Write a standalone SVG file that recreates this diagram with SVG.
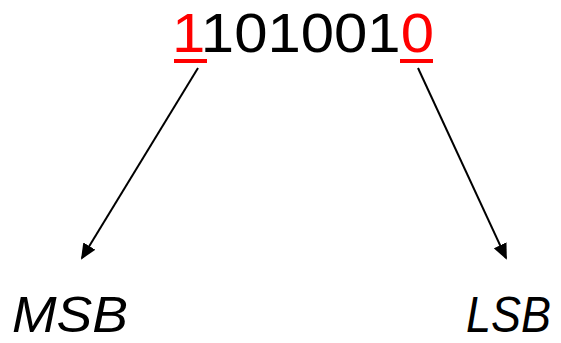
<svg xmlns="http://www.w3.org/2000/svg" width="561" height="343" viewBox="0 0 561 343">
<style>
.t{font-family:"Liberation Sans",Arial,sans-serif}
.red{fill:#ff0000}
.conn{stroke:#000;stroke-width:2;fill:none}
</style>
<defs>
<marker id="ah" markerWidth="8" markerHeight="7" refX="7" refY="3.5" orient="auto" markerUnits="strokeWidth">
<path d="M0,0 L8,3.5 L0,7 Z" fill="#000"/>
</marker>
</defs>
<rect width="561" height="343" fill="#fff"/>
<g id="bits">
<text class="t" x="172" y="52" font-size="56" textLength="262" lengthAdjust="spacingAndGlyphs"><tspan class="red">1</tspan>101001<tspan class="red">0</tspan></text>
<rect x="174" y="59" width="33" height="4" fill="#ff0000"/>
<rect x="400" y="59" width="33" height="4" fill="#ff0000"/>
</g>
<g id="msb">
<text class="t" x="12" y="332" font-size="50" font-style="italic" textLength="116" lengthAdjust="spacingAndGlyphs">MSB</text>
</g>
<g id="lsb">
<text class="t" x="466" y="332" font-size="50" font-style="italic" textLength="85" lengthAdjust="spacingAndGlyphs">LSB</text>
</g>
<g id="connectors">
<line class="conn" x1="198" y1="68" x2="82" y2="258" marker-end="url(#ah)"/>
<line class="conn" x1="418" y1="68" x2="506" y2="258" marker-end="url(#ah)"/>
</g>
</svg>
